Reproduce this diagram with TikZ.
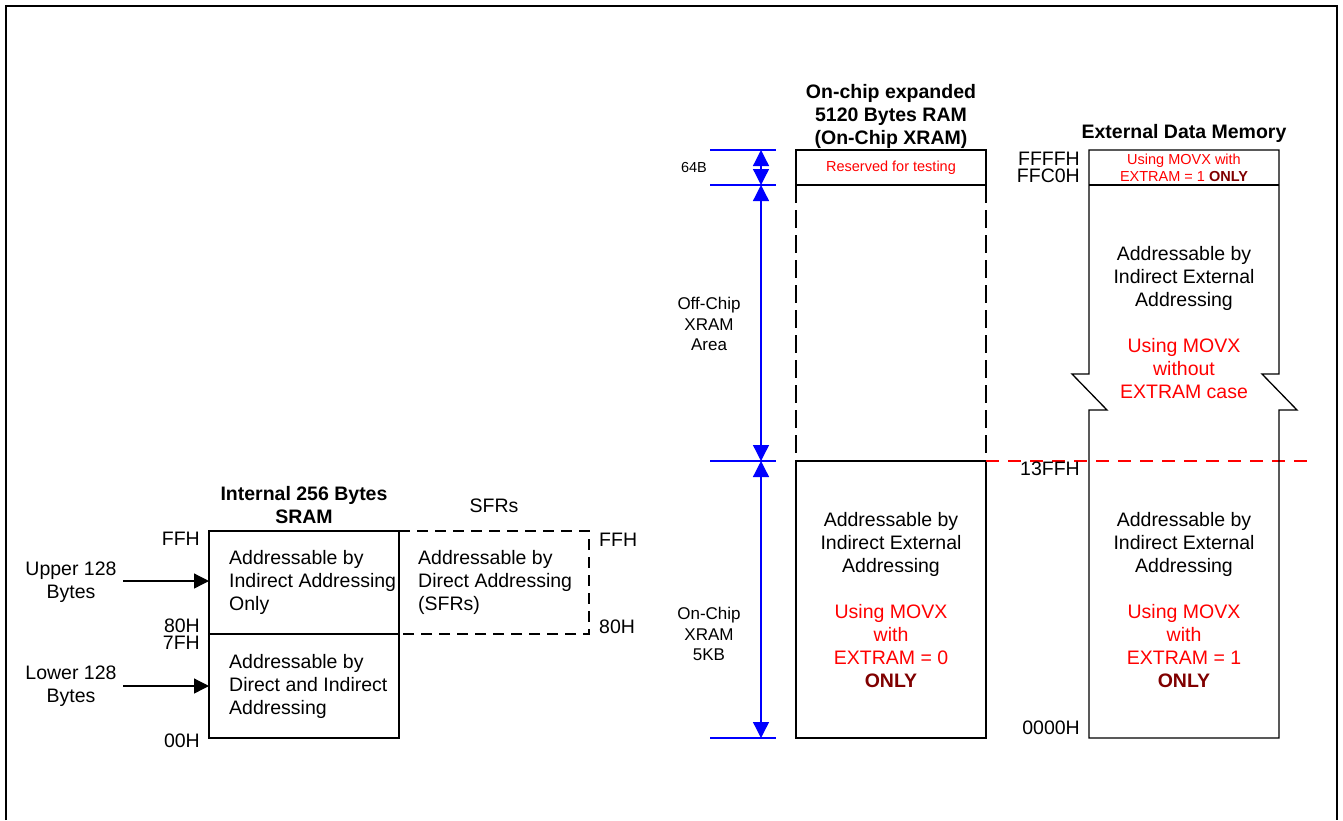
\documentclass[tikz,border=0pt]{standalone}
\usepackage{fontspec}
\setmainfont{Liberation Sans}
\usepackage{tikz}
\usetikzlibrary{arrows.meta}

\definecolor{memred}{RGB}{255,0,0}
\definecolor{memdark}{RGB}{128,0,0}
\definecolor{memblue}{RGB}{0,0,255}

\tikzset{
  box/.style={line width=1.3pt},
  dashbox/.style={line width=1.3pt, dash pattern=on 11pt off 7pt},
  big/.style={font=\fontsize{19.5}{23}\selectfont, inner sep=0pt},
  bigb/.style={font=\fontsize{19.5}{23}\selectfont\bfseries, inner sep=0pt, align=center},
  small/.style={font=\fontsize{14.5}{17}\selectfont, inner sep=0pt},
  mid/.style={font=\fontsize{17}{20.5}\selectfont, inner sep=0pt, align=center},
  dim/.style={memblue, line width=1.3pt},
  dimarrow/.style={memblue, line width=1.3pt, {Triangle[length=16pt,width=16pt]}-{Triangle[length=16pt,width=16pt]}},
  inarrow/.style={line width=1.3pt, -{Triangle[length=15pt,width=15pt]}},
}

\newcommand{\only}{\textcolor{memdark}{\bfseries ONLY}}

\begin{document}
\begin{tikzpicture}[x=1pt,y=-1pt]
				\useasboundingbox (0,0) rectangle (1343,820);
				% outer frame
				\draw[line width=1.7pt] (6,820) -- (6,6) -- (1337,6) -- (1337,820);

				% internal SRAM
				\coordinate(s1) at (209,531);
				\coordinate(s2) at (399,634);
				\coordinate(s3) at (209,738);
				\draw[box] (s1) rectangle (s2);
				\draw[box] (s3) rectangle (s2);
				\node[bigb] (sramt) at (304,505) {Internal 256 Bytes\\SRAM};
				\node[big, anchor=west, align=left] (upt) at (229,582) {Addressable by\\Indirect Addressing\\Only};
				\node[big, anchor=west, align=left] (lowt) at (229,686) {Addressable by\\Direct and Indirect\\Addressing};
				\node[big, anchor=east] (sff) at (200,539) {FFH};
				\node[big, anchor=east, align=right, font=\fontsize{19.5}{17}\selectfont] (s80) at (200,634) {80H\\7FH};
				\node[big, anchor=east] (s00) at (200,741) {00H};
				\node[big, align=center] (upper) at (71,582) {Upper 128\\Bytes};
				\node[big, align=center] (lower) at (71,686) {Lower 128\\Bytes};
				\coordinate(ua) at (123,581);
				\coordinate(la) at (123,686);
				\draw[inarrow] (ua) -- (ua -| s1);
				\draw[inarrow] (la) -- (la -| s1);

				% SFRs
				\draw[dashbox] (399,531) -- (589,531) -- (589,634) -- (399,634);
				\node[big] (sfrt) at (494,506) {SFRs};
				\node[big, anchor=west, align=left] (sfrtxt) at (418,582) {Addressable by\\Direct Addressing\\(SFRs)};
				\node[big, anchor=west] (fff) at (599,540) {FFH};
				\node[big, anchor=west] (f80) at (599,627) {80H};

				% on-chip XRAM
				\node[bigb] (xramt) at (891,116) {On-chip expanded\\5120 Bytes RAM\\(On-Chip XRAM)};
				\draw[box] (796,150) rectangle (986,185);
				\node[small, memred] (resv) at (891,168) {Reserved for testing};
				\draw[dashbox, dash pattern=on 18pt off 7pt] (796,185) -- (796,461);
				\draw[dashbox, dash pattern=on 18pt off 7pt] (986,185) -- (986,461);
				\draw[box] (796,461) rectangle (986,738);
				\node[big, align=center] (xtxt) at (891,600) {Addressable by\\Indirect External\\Addressing\\[23pt]
				  \textcolor{memred}{Using MOVX}\\\textcolor{memred}{with}\\\textcolor{memred}{EXTRAM = 0}\\\only};

				% dimensions
				\foreach \yy in {150,185,461,738}
				  \draw[dim] (710,\yy) -- (776,\yy);
				\draw[dimarrow] (761,150) -- (761,185);
				\draw[dimarrow] (761,185) -- (761,461);
				\draw[dimarrow] (761,461) -- (761,738);
				\node[small] (d64) at (694,168) {64B};
				\node[mid] (doff) at (709,324) {Off-Chip\\XRAM\\Area};
				\node[mid] (don) at (709,634) {On-Chip\\XRAM\\5KB};

				% boundary
				\draw[memred, line width=1.3pt, dash pattern=on 13pt off 9pt] (986,461) -- (1313,461);

				% external data memory
				\node[bigb] (extt) at (1184,133) {External Data Memory};
				\draw[box] (1089,150) -- (1279,150) -- (1279,374) -- (1262,374) -- (1297,410) -- (1279,410)
				  -- (1279,738) -- (1089,738) -- (1089,410) -- (1107,410) -- (1072,374) -- (1089,374) -- cycle;
				\draw[box] (1089,185) -- (1279,185);
				\node[small, align=center] (etop) at (1184,168) {\textcolor{memred}{Using MOVX with}\\\textcolor{memred}{EXTRAM = 1} \only};
				\node[big, anchor=east, align=right, font=\fontsize{19.5}{17}\selectfont] (effff) at (1080,167) {FFFFH\\FFC0H};
				\node[big, align=center] (euptxt) at (1184,323) {Addressable by\\Indirect External\\Addressing\\[23pt]
				  \textcolor{memred}{Using MOVX}\\\textcolor{memred}{without}\\\textcolor{memred}{EXTRAM case}};
				\node[big, align=center] (elowtxt) at (1184,600) {Addressable by\\Indirect External\\Addressing\\[23pt]
				  \textcolor{memred}{Using MOVX}\\\textcolor{memred}{with}\\\textcolor{memred}{EXTRAM = 1}\\\only};
				\node[big, anchor=east] (e13) at (1080,469) {13FFH};
				\node[big, anchor=east] (e00) at (1080,728) {0000H};

			\end{tikzpicture}
\end{document}
